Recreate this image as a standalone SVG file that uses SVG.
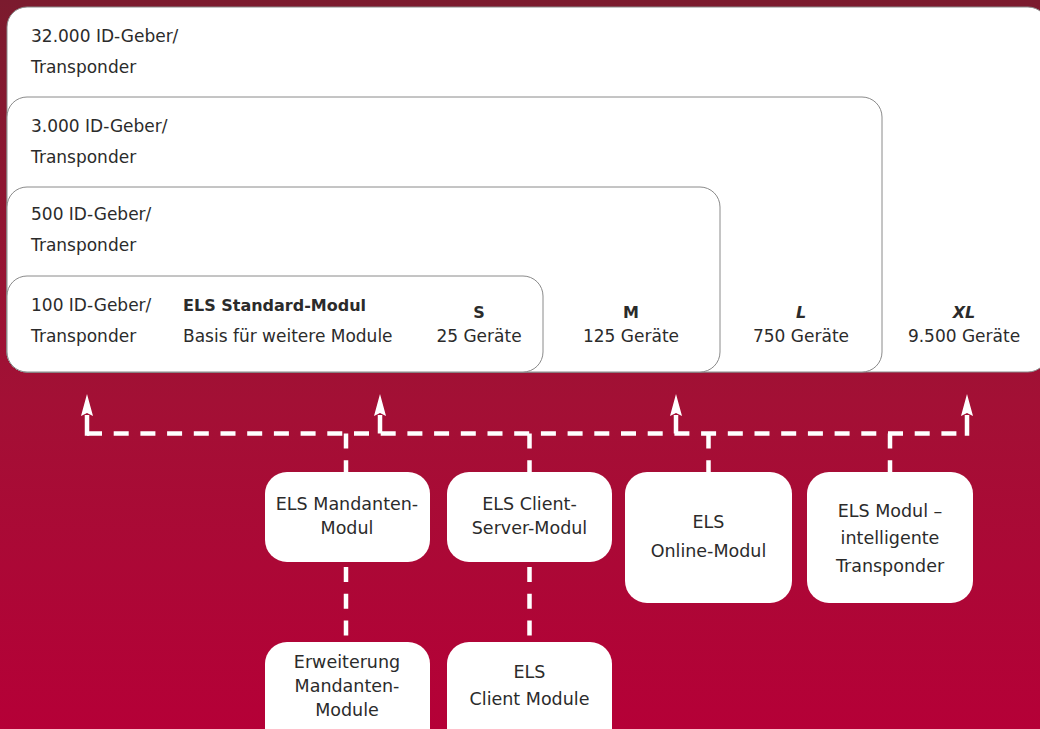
<svg xmlns="http://www.w3.org/2000/svg" width="1040" height="729" viewBox="0 0 1040 729">
<defs>
<linearGradient id="bg" x1="0" y1="0" x2="0" y2="1">
<stop offset="0" stop-color="#7b1b2e"/>
<stop offset="0.55" stop-color="#a31035"/>
<stop offset="1" stop-color="#b50037"/>
</linearGradient>
<marker id="ah" viewBox="0 0 22 12" refX="1" refY="6" markerWidth="22" markerHeight="12" markerUnits="userSpaceOnUse" orient="auto">
<path d="M0 0 L22 6 L0 12 L3 6 Z" fill="#fff"/>
</marker>
<style>
.tier{fill:#fff;stroke:#8a8a8a;stroke-width:1}
.mod{fill:#fff}
text{font-family:"DejaVu Sans","Liberation Sans",sans-serif;fill:#2b2b2b}
.t{font-size:17px}
.b{font-size:16px;font-weight:bold}
.bi{font-size:16px;font-weight:bold;font-style:italic}
.m{font-size:17.5px;text-anchor:middle}
.c{text-anchor:middle}
.dash{fill:none;stroke:#fff;stroke-width:4.5;stroke-dasharray:15 11.7}
.solid{fill:none;stroke:#fff;stroke-width:4.5}
</style>
</defs>
<rect width="1040" height="729" fill="url(#bg)"/>

<g id="tier-xl">
<rect class="tier" x="7" y="7" width="1041" height="365" rx="20"/>
<text class="t" x="31" y="42">32.000 ID-Geber/</text>
<text class="t" x="31" y="73">Transponder</text>
<text class="bi c" x="964" y="318">XL</text>
<text class="t c" x="964" y="342">9.500 Geräte</text>
</g>
<g id="tier-l">
<rect class="tier" x="7" y="97" width="875" height="275" rx="20"/>
<text class="t" x="31" y="132">3.000 ID-Geber/</text>
<text class="t" x="31" y="163">Transponder</text>
<text class="bi c" x="801" y="318">L</text>
<text class="t c" x="801" y="342">750 Geräte</text>
</g>
<g id="tier-m">
<rect class="tier" x="7" y="187" width="713" height="185" rx="20"/>
<text class="t" x="31" y="220">500 ID-Geber/</text>
<text class="t" x="31" y="251">Transponder</text>
<text class="b c" x="631" y="318">M</text>
<text class="t c" x="631" y="342">125 Geräte</text>
</g>
<g id="tier-s">
<rect class="tier" x="7" y="276" width="536" height="96" rx="20"/>
<text class="t" x="31" y="311">100 ID-Geber/</text>
<text class="t" x="31" y="342">Transponder</text>
<text class="b" x="183" y="311">ELS Standard-Modul</text>
<text class="t" x="183" y="342">Basis für weitere Module</text>
<text class="b c" x="479" y="318">S</text>
<text class="t c" x="479" y="342">25 Geräte</text>
</g>

<g id="connectors">
<path class="dash" d="M87 433.5 H967"/>
<path class="solid" d="M87 435.75 V415" marker-end="url(#ah)"/>
<path class="solid" d="M380 433.5 V415" marker-end="url(#ah)"/>
<path class="solid" d="M676 433.5 V415" marker-end="url(#ah)"/>
<path class="solid" d="M967 435.75 V415" marker-end="url(#ah)"/>
<path class="dash" d="M346 433.5 V472"/>
<path class="dash" d="M529.5 433.5 V472"/>
<path class="dash" d="M708.5 433.5 V472"/>
<path class="dash" d="M890 433.5 V472"/>
<path class="dash" d="M346 567 V642"/>
<path class="dash" d="M529.5 567 V642"/>
</g>

<g id="mandanten">
<rect class="mod" x="265" y="472" width="165" height="90" rx="22"/>
<text class="m" x="347" y="510">ELS Mandanten-</text>
<text class="m" x="347" y="534">Modul</text>
</g>
<g id="client-server">
<rect class="mod" x="447" y="472" width="165" height="90" rx="22"/>
<text class="m" x="529.5" y="510">ELS Client-</text>
<text class="m" x="529.5" y="534">Server-Modul</text>
</g>
<g id="online">
<rect class="mod" x="625" y="472" width="167" height="131" rx="22"/>
<text class="m" x="708.5" y="528">ELS</text>
<text class="m" x="708.5" y="557">Online-Modul</text>
</g>
<g id="transponder">
<rect class="mod" x="807" y="472" width="166" height="131" rx="22"/>
<text class="m" x="890" y="517">ELS Modul –</text>
<text class="m" x="890" y="544">intelligente</text>
<text class="m" x="890" y="572">Transponder</text>
</g>
<g id="erweiterung">
<rect class="mod" x="265" y="642" width="165" height="110" rx="22"/>
<text class="m" x="347" y="668">Erweiterung</text>
<text class="m" x="347" y="692">Mandanten-</text>
<text class="m" x="347" y="716">Module</text>
</g>
<g id="client-module">
<rect class="mod" x="447" y="642" width="165" height="110" rx="22"/>
<text class="m" x="529.5" y="678">ELS</text>
<text class="m" x="529.5" y="705">Client Module</text>
</g>
</svg>
